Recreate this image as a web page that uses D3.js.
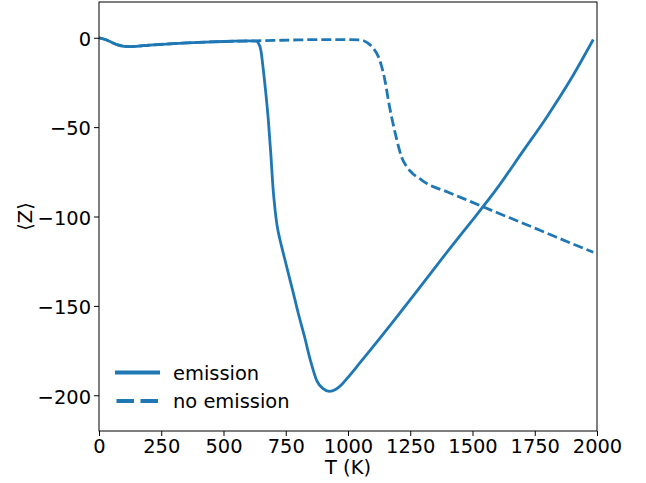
<!DOCTYPE html>
<html><head><meta charset="utf-8">
<script src="https://cdn.jsdelivr.net/npm/d3@7"></script>
<style>body{margin:0;background:#fff}svg{display:block}text{font-family:"DejaVu Sans",sans-serif}</style>
</head><body>
<svg id="c" width="646" height="483"></svg>
<script>
const emissionT = [0,25,50,75,100,125,150,200,300,400,500,600,630,640,650,660,670,680,690,700,707,714,722,732,750,767,779,800,825,850,875,900,925,950,975,1000,1050,1100,1200,1300,1400,1500,1600,1700,1800,1900,1985];
const emissionZ = [0,-1,-2.5,-4,-4.8,-5,-4.8,-4.2,-3.3,-2.6,-2.1,-1.8,-1.9,-3,-7,-18,-31,-46,-65,-86,-96,-104,-110,-116,-126,-135.5,-142,-154,-167,-181,-192,-196.3,-197.8,-196.8,-194,-190,-181.5,-173,-155.5,-137.5,-119.5,-102,-84,-64,-44,-22,-1];
const noEmissionT = [0,25,50,75,100,125,150,200,300,400,500,600,700,800,900,1000,1050,1080,1102,1120,1135,1150,1162,1189,1205,1216,1235,1256,1290,1316,1400,1500,1600,1700,1800,1900,1985];
const noEmissionZ = [0,-1,-2.5,-4,-4.8,-5,-4.8,-4.2,-3.3,-2.6,-2.1,-1.8,-1.5,-1.2,-1,-1,-1.2,-3,-6,-10,-16,-25,-35,-53,-62,-67,-72,-75.5,-79,-81.5,-86.3,-92.1,-97.9,-103.6,-109.4,-115.2,-120];
const xTicks = [0,250,500,750,1000,1250,1500,1750,2000];
const yTicks = [0,-50,-100,-150,-200];
const seriesLabels = ["emission","no emission"];

const svg = d3.select("#c");
const L=99, R=597, T=2, B=431;
const FS = 19.44;
const x = d3.scaleLinear().domain([0,2000]).range([L,R]);
const y = d3.scaleLinear().domain([-220,20]).range([B,T]);
const color = "#1f77b4";

const line = d3.line().x(d=>x(d[0])).y(d=>y(d[1])).curve(d3.curveMonotoneX);
const ne = noEmissionT.map((t,i)=>[t,noEmissionZ[i]]);
const em = emissionT.map((t,i)=>[t,emissionZ[i]]);

svg.append("path").attr("d",line(ne)).attr("fill","none").attr("stroke",color).attr("stroke-width",2.8).attr("stroke-dasharray","10,4");
svg.append("path").attr("d",line(em)).attr("fill","none").attr("stroke",color).attr("stroke-width",2.8);

const fmt = d => d<0 ? "\u2212"+Math.abs(d) : String(d);
const xa = svg.append("g").attr("transform",`translate(0,${B})`).call(d3.axisBottom(x).tickValues(xTicks).tickFormat(fmt).tickSize(5).tickPadding(3));
const ya = svg.append("g").attr("transform",`translate(${L},0)`).call(d3.axisLeft(y).tickValues(yTicks).tickFormat(fmt).tickSize(5).tickPadding(3));
[xa,ya].forEach(a=>{a.selectAll("text").attr("font-size",FS).attr("fill","#000").attr("font-family","DejaVu Sans");a.select(".domain").remove();a.selectAll("line").attr("stroke","#000");});
ya.selectAll("text").attr("dy","0.4em");
svg.append("rect").attr("x",L).attr("y",T).attr("width",R-L).attr("height",B-T).attr("fill","none").attr("stroke","#000").attr("stroke-width",1);

svg.append("text").attr("x",(L+R)/2).attr("y",474).attr("text-anchor","middle").attr("font-size",FS).text("T (K)");
svg.append("text").attr("transform",`translate(32,${(T+B)/2}) rotate(-90)`).attr("text-anchor","middle").attr("font-size",FS).text("\u27E8Z\u27E9");

const lg = svg.append("g");
seriesLabels.forEach((s,i)=>{
  const yy = 372.5 + i*28.5;
  lg.append("line").attr("x1",i?116.5:115).attr("x2",i?159.5:160).attr("y1",yy).attr("y2",yy).attr("stroke",color).attr("stroke-width",4).attr("stroke-dasharray", i?"17.5,6.5":null);
  lg.append("text").attr("x",173).attr("y",yy+7).attr("font-size",FS).text(s);
});
</script>
</body></html>
